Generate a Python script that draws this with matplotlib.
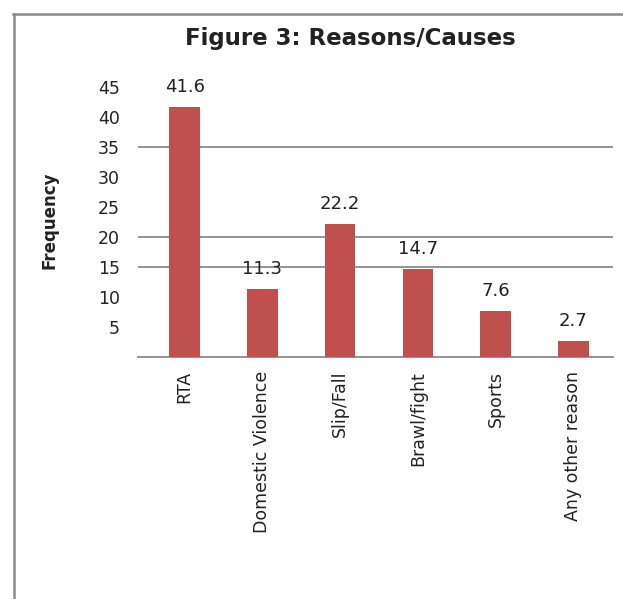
import matplotlib
matplotlib.use("Agg")
import matplotlib.pyplot as plt
from matplotlib.lines import Line2D

categories = ["RTA", "Domestic Violence", "Slip/Fall", "Brawl/fight", "Sports", "Any other reason"]
values = [41.6, 11.3, 22.2, 14.7, 7.6, 2.7]
value_labels = ["41.6", "11.3", "22.2", "14.7", "7.6", "2.7"]
y_ticks = [5, 10, 15, 20, 25, 30, 35, 40, 45]
grid_levels = [15, 20, 35]

W, H = 623, 599
fig = plt.figure(figsize=(W / 100, H / 100), dpi=100)
fig.patch.set_facecolor("white")

# outer frame (top and left edges)
frame_col = "#8a8a8a"
fig.add_artist(Line2D([13 / W, 1.0], [1 - 14 / H, 1 - 14 / H], color=frame_col, lw=1.8,
                      transform=fig.transFigure))
fig.add_artist(Line2D([14 / W, 14 / W], [1 - 14 / H, 0.0], color=frame_col, lw=1.8,
                      transform=fig.transFigure))

ax = fig.add_axes([138 / W, 1 - 357 / H, 475 / W, 270 / H])
x = list(range(len(categories)))
ax.bar(x, values, width=0.39, color="#C0504D", zorder=3)

for lvl in grid_levels:
    ax.axhline(lvl, color="#8a8a8a", lw=1.3, zorder=1)

ax.set_xlim(-0.6, 5.51)
ax.set_ylim(0, 45)

for s in ["top", "right", "left"]:
    ax.spines[s].set_visible(False)
ax.spines["bottom"].set_color("#8a8a8a")
ax.spines["bottom"].set_linewidth(1.3)

ax.set_yticks(y_ticks)
ax.set_yticklabels([str(t) for t in y_ticks], fontsize=12.5, color="#222222")
ax.tick_params(axis="y", length=0, pad=13)
ax.set_xticks(x)
ax.set_xticklabels(categories, rotation=90, fontsize=12.5, color="#222222", va="top")
ax.tick_params(axis="x", length=0, pad=10)

for xi, v, lab in zip(x, values, value_labels):
    ax.annotate(lab, (xi, v), xytext=(0, 14.4), textcoords="offset points",
                ha="center", va="center", fontsize=13, color="#222222")

fig.text(50 / W, 1 - 220 / H, "Frequency", rotation=90, ha="center", va="center",
         fontsize=12, fontweight="bold", color="#222222")
fig.text(350 / W, 1 - 39 / H, "Figure 3: Reasons/Causes", ha="center", va="center",
         fontsize=16.5, fontweight="bold", color="#222222")

fig.savefig("out.png", dpi=100, facecolor="white")
